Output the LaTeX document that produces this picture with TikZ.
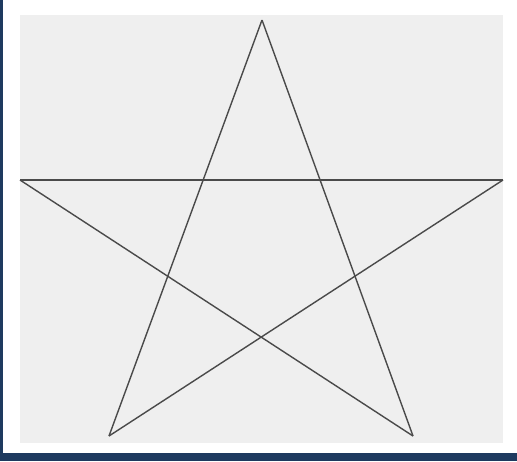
\documentclass[tikz,border=0pt]{standalone}
\usetikzlibrary{positioning}
\definecolor{panelgray}{HTML}{EFEFEF}
\definecolor{framenavy}{HTML}{1E3A5F}
\definecolor{starline}{HTML}{4A4A4A}

\begin{document}
\begin{tikzpicture}[x=1pt,y=-1pt,line join=round]
\tikzset{edge/.style={draw=starline,line width=1.4pt}}
\useasboundingbox (0,0) rectangle (517,461);
\fill[white] (0,0) rectangle (517,461);
% window edges
\fill[framenavy] (0,0) rectangle (3,461);
\fill[framenavy] (0,453) rectangle (517,461);
\fill[panelgray] (20,15) rectangle (503,443);
% star points
\coordinate (top) at (262,20);
\coordinate (left) at (20,180);
\coordinate (right) at (503,180);
\coordinate (botleft) at (109,436);
\coordinate (botright) at (413,436);
\draw[edge] (top) -- (botleft);
\draw[edge] (top) -- (botright);
\draw[edge] (left) -- (right);
\draw[edge] (left) -- (botright);
\draw[edge] (right) -- (botleft);
\end{tikzpicture}
\end{document}
